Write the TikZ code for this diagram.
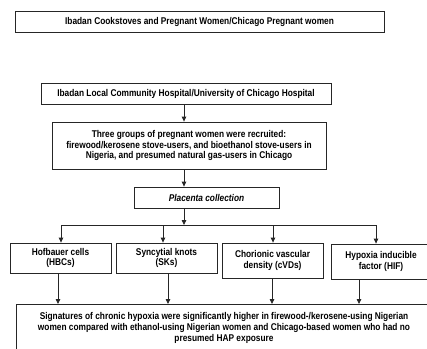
\documentclass[tikz,border=0pt]{standalone}
\usepackage{fontspec}
\setmainfont{Liberation Sans}[FakeStretch=0.85]
\usepackage{tikz}
\usetikzlibrary{positioning, arrows.meta}

\begin{document}
\begin{tikzpicture}
    [
        x=1pt, y=-1pt,
        box_node/.style={rectangle, draw=black!85, line width=0.8pt, fill=white, inner sep=0pt, align=center, font=\fontsize{9.8}{10.6}\selectfont\bfseries},
        arrow_line/.style={-{Triangle[length=5pt, width=4.5pt]}, line width=0.8pt, color=black!85},
        plain_line/.style={line width=0.8pt, color=black!85},
    ]
        \useasboundingbox (0,0) rectangle (427,348) ;
        \fill[white] (0,0) rectangle (427,348) ;
        \clip (0,0) rectangle (427,348) ;
        \node[box_node, minimum width=369pt, minimum height=21pt] (cookstoves) at (199.5,21.5) {Ibadan Cookstoves and Pregnant Women/Chicago Pregnant women} ;
        \node[box_node, minimum width=290pt, minimum height=21pt] (hospital) at (186,93.5) {Ibadan Local Community Hospital/University of Chicago Hospital} ;
        \node[box_node, minimum width=274pt, minimum height=47pt] (groups) at (189,145.5) {Three groups of pregnant women were recruited:\\firewood/kerosene stove-users, and bioethanol stove-users in\\Nigeria, and presumed natural gas-users in Chicago} ;
        \node[box_node, minimum width=145pt, minimum height=21pt] (placenta) at (206.5,197.5) {\itshape Placenta collection} ;
        \node[box_node, minimum width=101pt, minimum height=30pt] (hbc) at (60.5,258) {Hofbauer cells\\(HBCs)} ;
        \node[box_node, minimum width=101pt, minimum height=30pt] (sk) at (166.5,258) {Syncytial knots\\(SKs)} ;
        \node[box_node, minimum width=101pt, minimum height=35pt] (cvd) at (272.5,260.5) {Chorionic vascular\\density (cVDs)} ;
        \node[box_node, minimum width=100pt, minimum height=35pt] (hif) at (381,261.5) {Hypoxia inducible\\factor (HIF)} ;
        \node[box_node, minimum width=416pt, minimum height=48pt] (hypoxia) at (224,328) {Signatures of chronic hypoxia were significantly higher in firewood-/kerosene-using Nigerian\\women compared with ethanol-using Nigerian women and Chicago-based women who had no\\presumed HAP exposure} ;
        % branch points
        \coordinate (spine) at (184,225) ;
        \coordinate (t1) at (61,225) ;
        \coordinate (t2) at (163,225) ;
        \coordinate (t3) at (273,225) ;
        \coordinate (t4) at (376,225) ;
        \coordinate (d1) at (58,304) ;
        \coordinate (d2) at (168,304) ;
        \coordinate (d3) at (272,304) ;
        \coordinate (d4) at (359,304) ;
        \draw[arrow_line] (hospital.south -| spine) to (groups.north -| spine) ;
        \draw[arrow_line] (groups.south -| spine) to (placenta.north -| spine) ;
        \draw[arrow_line] (placenta.south -| spine) to (spine) ;
        \draw[plain_line] (t1) to (t4) ;
        \draw[arrow_line] (t1) to (t1 |- hbc.north) ;
        \draw[arrow_line] (t2) to (t2 |- sk.north) ;
        \draw[arrow_line] (t3) to (t3 |- cvd.north) ;
        \draw[arrow_line] (t4) to (t4 |- hif.north) ;
        \draw[arrow_line] (d1 |- hbc.south) to (d1) ;
        \draw[arrow_line] (d2 |- sk.south) to (d2) ;
        \draw[arrow_line] (d3 |- cvd.south) to (d3) ;
        \draw[arrow_line] (d4 |- hif.south) to (d4) ;
\end{tikzpicture}
\end{document}
